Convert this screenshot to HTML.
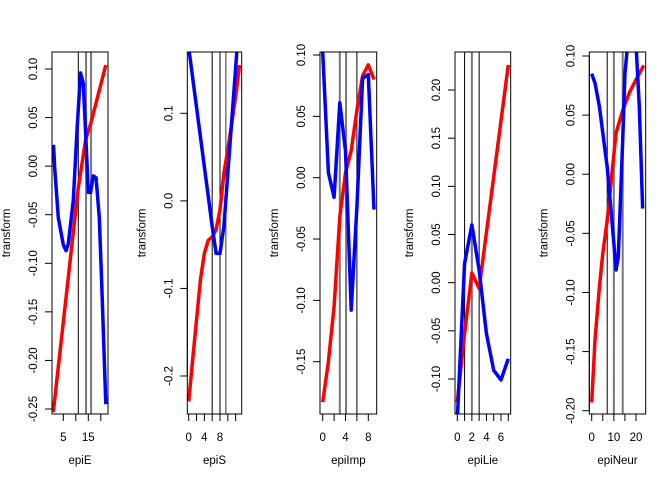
<!DOCTYPE html>
<html><head><meta charset="utf-8">
<style>
html,body{margin:0;padding:0;background:#fff;}
svg{display:block;font-family:"Liberation Sans",Arial,sans-serif;}
</style></head>
<body>
<svg id="chart" width="672" height="480" viewBox="0 0 672 480" xmlns="http://www.w3.org/2000/svg"></svg>
<script>
// ---- data (per panel) ----
const varNames = ["epiE","epiS","epiImp","epiLie","epiNeur"];

const e_red_x = [1, 11, 14, 16, 22];
const e_red_y = [-0.253, -0.022, 0.028, 0.044, 0.104];
const e_blue_x = [1.1, 1.5, 3, 5, 6.1, 7, 9, 10.6, 11.9, 13, 14.1, 15, 15.9, 17, 18.1, 19.4, 20.3, 22];
const e_blue_y = [0.022, 0.0, -0.053, -0.081, -0.087, -0.08, -0.035, 0.042, 0.096, 0.085, 0.025, -0.027, -0.027, -0.01, -0.012, -0.053, -0.116, -0.245];
const e_vlines = [11, 14.1, 16.1];
const e_yticks = [0.10, 0.05, 0.00, -0.05, -0.10, -0.15, -0.20, -0.25];
const e_ylabels = ["0.10","0.05","0.00","-0.05","-0.10","-0.15","-0.20","-0.25"];
const e_xticks = [5, 10, 15, 20];
const e_xlabels = ["5","","15",""];

const s_red_x = [0,1,2,3,4,5,6,7,8,9,10,12,13];
const s_red_y = [-0.229,-0.182,-0.136,-0.09,-0.06,-0.045,-0.041,-0.033,-0.01,0.032,0.058,0.119,0.155];
const s_blue_x = [0, 6, 7, 8, 9, 12.3, 13];
const s_blue_y = [0.175, -0.029, -0.06, -0.06, -0.029, 0.17, 0.26];
const s_vlines = [6, 8, 9.5];
const s_yticks = [0.1, 0.0, -0.1, -0.2];
const s_ylabels = ["0.1","0.0","-0.1","-0.2"];
const s_xticks = [0,2,4,6,8,10,12];
const s_xlabels = ["0","","4","","8","",""];

const i_red_x = [0,1,2,3,4,5,6,7,8,9];
const i_red_y = [-0.183,-0.15,-0.105,-0.032,0.004,0.022,0.055,0.083,0.092,0.08];
const i_blue_x = [0,1,2,3,4,5,6,7,8,9];
const i_blue_y = [0.103,0.004,-0.016,0.061,0.022,-0.108,-0.024,0.081,0.084,-0.026];
const i_vlines = [3, 4.1, 6];
const i_yticks = [0.10,0.05,0.00,-0.05,-0.10,-0.15];
const i_ylabels = ["0.10","0.05","0.00","-0.05","-0.10","-0.15"];
const i_xticks = [0,2,4,6,8];
const i_xlabels = ["0","","4","","8"];

const l_red_x = [0,1,2,3,7];
const l_red_y = [-0.124,-0.053,0.010,-0.006,0.226];
const l_blue_x = [0,1,2,3,4,5,6,7];
const l_blue_y = [-0.142,0.02,0.06,0.013,-0.053,-0.091,-0.101,-0.079];
const l_vlines = [1, 2, 3];
const l_yticks = [0.20,0.15,0.10,0.05,0.00,-0.05,-0.10];
const l_ylabels = ["0.20","0.15","0.10","0.05","0.00","-0.05","-0.10"];
const l_xticks = [0,1,2,3,4,5,6,7];
const l_xlabels = ["0","","2","","4","","6",""];

const n_red_x = [0,1.5,3.5,5,7,9,11,14,17,20,23.5];
const n_red_y = [-0.193,-0.14,-0.095,-0.067,-0.039,-0.002,0.035,0.054,0.069,0.08,0.092];
const n_blue_x = [0,1.5,3.5,5,7,9,11,12,14,15,16.5,20,21.5,23];
const n_blue_y = [0.085,0.077,0.057,0.035,0.006,-0.036,-0.081,-0.07,0.029,0.085,0.115,0.11,0.057,-0.029];
const n_vlines = [7, 10, 14];
const n_yticks = [0.10,0.05,0.00,-0.05,-0.10,-0.15,-0.20];
const n_ylabels = ["0.10","0.05","0.00","-0.05","-0.10","-0.15","-0.20"];
const n_xticks = [0,5,10,15,20];
const n_xlabels = ["0","","10","","20"];

// ---- layout (pixel calibration: box + two reference points per axis) ----
const panels = [
 {name:"epie", box:[52,108,52,414], xr:[5,63.3,15,88.3], yr:[0.10,69,-0.25,409],
  rx:e_red_x, ry:e_red_y, bx:e_blue_x, by:e_blue_y, vl:e_vlines, vc:["#000","#777","#777"], yt:e_yticks, yl:e_ylabels, xt:e_xticks, xl:e_xlabels},
 {name:"epis", box:[187.3,241.7,52,414], xr:[0,188.7,8,220], yr:[0.1,113.3,-0.2,376],
  rx:s_red_x, ry:s_red_y, bx:s_blue_x, by:s_blue_y, vl:s_vlines, vc:["#000","#000","#333"], yt:s_yticks, yl:s_ylabels, xt:s_xticks, xl:s_xlabels},
 {name:"epiimp", box:[320,376.7,52,414], xr:[0,322.7,8,368.3], yr:[0.10,55,-0.15,361.7],
  rx:i_red_x, ry:i_red_y, bx:i_blue_x, by:i_blue_y, vl:i_vlines, vc:["#777","#777","#000"], yt:i_yticks, yl:i_ylabels, xt:i_xticks, xl:i_xlabels},
 {name:"epilie", box:[455,510.7,52,414], xr:[0,457.3,6,501], yr:[0.20,90,-0.10,379],
  rx:l_red_x, ry:l_red_y, bx:l_blue_x, by:l_blue_y, vl:l_vlines, vc:["#000","#777","#000"], yt:l_yticks, yl:l_ylabels, xt:l_xticks, xl:l_xlabels},
 {name:"epineur", box:[589.3,645.7,52,414], xr:[0,591.7,20,636], yr:[0.10,56,-0.20,410.7],
  rx:n_red_x, ry:n_red_y, bx:n_blue_x, by:n_blue_y, vl:n_vlines, vc:["#000","#777","#777"], yt:n_yticks, yl:n_ylabels, xt:n_xticks, xl:n_xlabels}
];

const NS = "http://www.w3.org/2000/svg";
const svg = document.getElementById("chart");
function mk(tag, attrs, parent){
  const el = document.createElementNS(NS, tag);
  for (const k in attrs) el.setAttribute(k, attrs[k]);
  (parent||svg).appendChild(el);
  return el;
}

panels.forEach((p, idx) => {
  const g = mk("g", {});
  
  
  const sx = v => p.xr[1] + (v - p.xr[0]) * (p.xr[3] - p.xr[1]) / (p.xr[2] - p.xr[0]);
  const sy = v => p.yr[1] + (v - p.yr[0]) * (p.yr[3] - p.yr[1]) / (p.yr[2] - p.yr[0]);
  const [x0, x1, y0, y1] = p.box;

  const cp = mk("clipPath", {id: "clip" + idx}, g);
  mk("rect", {x: x0, y: y0, width: x1 - x0, height: y1 - y0}, cp);

  // vertical reference lines
  p.vl.forEach((v, j) => {
    const ln = mk("line", {x1: sx(v), x2: sx(v), y1: y0, y2: y1, stroke: p.vc[j], "stroke-width": p.vc[j] === "#777" ? 2 : 1}, g);
    
    
  });

  const path = (xs, ys) => xs.map((v, k) => (k ? "L" : "M") + sx(v).toFixed(2) + "," + sy(ys[k]).toFixed(2)).join(" ");
  const red = mk("path", {d: path(p.rx, p.ry), fill: "none", stroke: "#ff0000", "stroke-width": 3.5, "stroke-linejoin": "round", "clip-path": "url(#clip" + idx + ")"}, g);
  
  
  const blue = mk("path", {d: path(p.bx, p.by), fill: "none", stroke: "#0000ff", "stroke-width": 3.5, "stroke-linejoin": "round", "clip-path": "url(#clip" + idx + ")"}, g);
  
  

  // box
  const box = mk("rect", {x: x0, y: y0, width: x1 - x0, height: y1 - y0, fill: "none", stroke: "#000", "stroke-width": 1}, g);
  
  

  // y axis
  const ya = mk("g", {}, g);
  
  
  mk("line", {x1: x0, x2: x0, y1: sy(p.yt[0]), y2: sy(p.yt[p.yt.length - 1]), stroke: "#000"}, ya);
  p.yt.forEach((v, j) => {
    const y = sy(v);
    mk("line", {x1: x0 - 7, x2: x0, y1: y, y2: y, stroke: "#000"}, ya);
    const t = mk("text", {x: 0, y: 0, transform: "translate(" + (x0 - 15) + "," + y + ") rotate(-90)", "text-anchor": "middle", "font-size": 11.5, fill: "#000"}, ya);
    t.textContent = p.yl[j];
    
    
  });
  const yt = mk("text", {transform: "translate(" + (x0 - 42) + ",233) rotate(-90)", "text-anchor": "middle", "font-size": 11.5, fill: "#000"}, g);
  yt.textContent = "transform";
  
  

  // x axis
  const xa = mk("g", {}, g);
  
  
  mk("line", {x1: sx(p.xt[0]), x2: sx(p.xt[p.xt.length - 1]), y1: y1, y2: y1, stroke: "#000"}, xa);
  p.xt.forEach((v, j) => {
    const x = sx(v);
    mk("line", {x1: x, x2: x, y1: y1, y2: y1 + 7, stroke: "#000"}, xa);
    if (p.xl[j]) {
      const t = mk("text", {x: x, y: 441, "text-anchor": "middle", "font-size": 11.5, fill: "#000"}, xa);
      t.textContent = p.xl[j];
      
      
    }
  });
  const xt = mk("text", {x: (x0 + x1) / 2, y: 464, "text-anchor": "middle", "font-size": 11.5, fill: "#000"}, g);
  xt.textContent = varNames[idx];
  
  
});
</script>
</body></html>
